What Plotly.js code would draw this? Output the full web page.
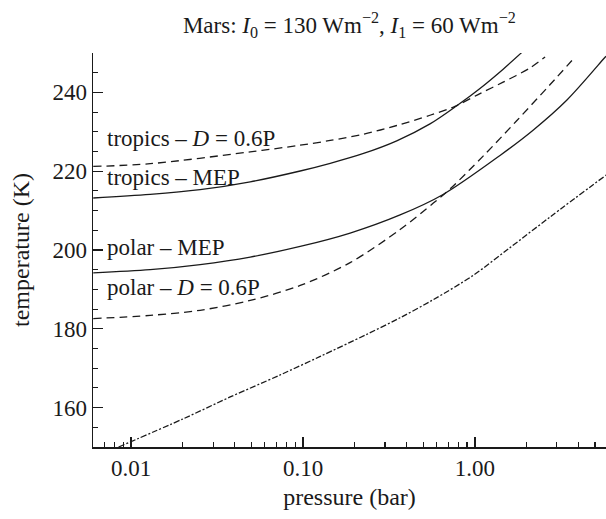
<!DOCTYPE html>
<html>
<head>
<meta charset="utf-8">
<script src="https://cdn.plot.ly/plotly-3.0.1.min.js"></script>
<style>html,body{margin:0;padding:0;background:#fff;overflow:hidden}</style>
</head>
<body>
<div id="chart" style="width:606px;height:519px"></div>
<script>
// pressure (bar) and temperature (K)
var tropicsMEP_p = [0.00602, 0.0129, 0.0252, 0.0493, 0.0963, 0.144, 0.225, 0.351, 0.548, 0.784, 1.07, 1.46, 1.87];
var tropicsMEP_T = [213.2, 214.1, 215.3, 217.3, 220.05, 222.0, 224.5, 227.7, 232.0, 236.6, 241.0, 245.9, 250.1];

var tropicsD_p = [0.00602, 0.0129, 0.0493, 0.0963, 0.144, 0.225, 0.351, 0.548, 0.760, 1.07, 1.46, 2.09, 2.56];
var tropicsD_T = [221.2, 221.9, 224.9, 226.6, 227.8, 229.4, 231.6, 234.2, 236.4, 239.7, 242.6, 246.2, 249.0];

var polarMEP_p = [0.00602, 0.0129, 0.0252, 0.0493, 0.0963, 0.188, 0.367, 0.653, 1.40, 2.18, 3.42, 5.58, 5.79];
var polarMEP_T = [194.2, 195.0, 196.3, 198.2, 200.9, 204.3, 208.9, 214.1, 224.0, 230.4, 238.0, 248.4, 249.2];

var polarD_p = [0.00602, 0.0129, 0.0252, 0.0493, 0.0963, 0.188, 0.367, 0.573, 0.717, 1.12, 1.75, 2.74, 3.74];
var polarD_T = [182.6, 183.4, 184.7, 187.2, 191.0, 196.8, 205.2, 211.9, 215.5, 223.9, 232.8, 242.0, 248.5];

var dashdot_p = [0.00845, 0.0202, 0.0377, 0.0737, 0.126, 0.235, 0.367, 0.573, 0.980, 1.60, 2.74, 5.79];
var dashdot_T = [150.0, 157.2, 162.7, 168.3, 173.0, 178.6, 182.8, 187.4, 193.6, 200.6, 208.4, 219.0];

var xTickVals = [0.01, 0.1, 1];
var xTickText = ["0.01", "0.10", "1.00"];
var xMinorVals = [0.006,0.007,0.008,0.009,0.02,0.03,0.04,0.05,0.06,0.07,0.08,0.09,0.2,0.3,0.4,0.5,0.6,0.7,0.8,0.9,2,3,4,5];
var yTickVals = [160, 180, 200, 220, 240];

var curveLabels = ["tropics \u2013 <i>D</i> = 0.6P", "tropics \u2013 MEP", "polar \u2013 MEP", "polar \u2013 <i>D</i> = 0.6P"];
var curveLabelT = [228.3, 218.5, 200.6, 190.6];

var INK = "#1a1a1a";
var FONT = "Liberation Serif, Times New Roman, serif";

function line(p, T, dash){
  return {x:p, y:T, type:"scatter", mode:"lines", line:{color:INK, width:1.3, dash:dash, shape:"spline", smoothing:0.9}, hoverinfo:"skip", showlegend:false};
}

var data = [
  line(tropicsMEP_p, tropicsMEP_T, "solid"),
  line(tropicsD_p, tropicsD_T, "8px,5px"),
  line(polarMEP_p, polarMEP_T, "solid"),
  line(polarD_p, polarD_T, "8px,5px"),
  line(dashdot_p, dashdot_T, "6px,2px,2px,2px")
];

var annotations = curveLabels.map(function(t,i){
  return {text:t, xref:"paper", x:0.024, yref:"y", y:curveLabelT[i], xanchor:"left", yanchor:"middle", showarrow:false, font:{family:FONT, size:23, color:INK}};
});

var layout = {
  width:606, height:519,
  margin:{l:93, r:0, t:53, b:72},
  paper_bgcolor:"#fff", plot_bgcolor:"#fff",
  font:{family:FONT, size:23, color:INK},
  title:{text:"Mars: <i>I</i><sub>0</sub> = 130 Wm<sup>\u22122</sup>, <i>I</i><sub>1</sub> = 60 Wm<sup>\u22122</sup>", x:0.5765, xanchor:"center", y:0.952, yanchor:"middle", font:{family:FONT, size:23, color:INK}},
  xaxis:{
    type:"log", range:[Math.log10(0.006), Math.log10(5.79)],
    showline:true, linecolor:INK, linewidth:1.5, mirror:false,
    showgrid:false, zeroline:false,
    tickmode:"array", tickvals:xTickVals, ticktext:xTickText,
    ticks:"inside", ticklen:10, tickwidth:1.3, tickcolor:INK,
    tickfont:{family:FONT, size:23, color:INK},
    minor:{tickmode:"array", tickvals:xMinorVals, ticks:"inside", ticklen:5, tickwidth:1.1, tickcolor:INK, showgrid:false},
    title:{text:"pressure (bar)", font:{family:FONT, size:24, color:INK}, standoff:8}
  },
  yaxis:{
    range:[150, 250],
    showline:true, linecolor:INK, linewidth:1.5, mirror:false,
    showgrid:false, zeroline:false,
    tickmode:"array", tickvals:yTickVals,
    ticks:"inside", ticklen:10, tickwidth:1.3, tickcolor:INK,
    tickfont:{family:FONT, size:23, color:INK},
    minor:{dtick:5, ticks:"inside", ticklen:5, tickwidth:1.1, tickcolor:INK, showgrid:false},
    title:{text:"temperature (K)", font:{family:FONT, size:24, color:INK}, standoff:16}
  },
  annotations:annotations
};

Plotly.newPlot("chart", data, layout, {displayModeBar:false, staticPlot:true});
</script>
</body>
</html>
